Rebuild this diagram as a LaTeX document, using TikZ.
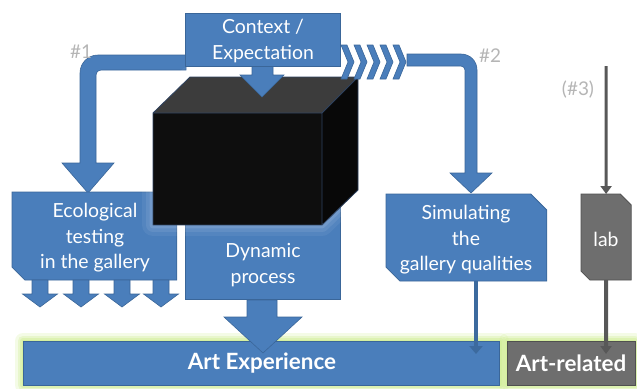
\documentclass[tikz,border=0pt]{standalone}
\usepackage{fontspec}
\setmainfont{Lato}
\usetikzlibrary{calc,arrows.meta}
\definecolor{boxblue}{HTML}{4A7EBB}
\definecolor{boxedge}{HTML}{3A6699}
\definecolor{boxgray}{HTML}{6E6E6E}
\definecolor{grayedge}{HTML}{505050}
\definecolor{tagcol}{HTML}{B5B5B5}
\definecolor{glowgreen}{HTML}{D3EE9C}
\definecolor{cubetop}{HTML}{3C3C3C}
\definecolor{cubefront}{HTML}{0E0E0E}
\definecolor{cubeside}{HTML}{080808}
\definecolor{cubeedge}{HTML}{2E4260}
\begin{document}
\begin{tikzpicture}[x=1bp,y=-1bp,
  bluebox/.style={fill=boxblue, draw=boxedge, line width=0.8bp, inner sep=0pt},
  graybox/.style={fill=boxgray, draw=grayedge, line width=0.8bp, inner sep=0pt},
  frame/.style={rectangle, inner sep=0pt},
  boxtext/.style={text=white, font=\fontsize{19.5}{25.5}\selectfont, align=center, inner sep=0pt},
  bartext/.style={text=white, font=\fontsize{22.5}{24}\selectfont\bfseries},
  tag/.style={text=tagcol, font=\fontsize{19}{20}\selectfont, inner sep=0pt},
  blockarrow/.style={fill=boxblue, draw=boxedge, line width=0.6bp},
  thinblue/.style={draw=boxedge!85!boxblue, line width=4bp, -{Triangle[width=13bp,length=8bp]}},
  thingray/.style={draw=boxgray!80!black, line width=#1, -{Triangle[width=11bp,length=8bp]}},
  glow/.style={draw=glowgreen, line join=round}
]
\useasboundingbox (0,0) rectangle (637,388);

% soft green halo round the two result bars
\foreach \w/\o in {16/0.25, 11/0.35, 6/0.55, 2/0.8} {
  \draw[glow, line width=\w, opacity=\o] (23,341) rectangle (501,385);
  \draw[glow, line width=\w, opacity=\o] (507,341) rectangle (635,385);
}
\node[bluebox, minimum width=478, minimum height=44, anchor=north west] (artexp) at (23,341) {};
\node[bartext] (artexptxt) at (262,363) {Art Experience};
\node[graybox, minimum width=128, minimum height=44, anchor=north west] (artrel) at (507,341) {};
\node[bartext] (artreltxt) at (571,363) {Art-related};

% path #1: bent arrow into the gallery box
\path[blockarrow] (186,55) -- (98,55) .. controls (88,55) and (80,63) .. (80,73)
  -- (80,163) -- (62,163) -- (88,193) -- (114,163) -- (96,163) -- (96,75)
  .. controls (96,72) and (98,70) .. (101,70) -- (186,70) -- cycle;

% ecological testing box (one snipped corner) and its outputs
\node[frame, minimum width=165, minimum height=88, anchor=north west] (eco) at (12,192) {};
\path[bluebox] (eco.north west) -- (eco.north east) -- (eco.south east)
  -- ($(eco.south west)+(13,0)$) -- ($(eco.south west)+(0,-13)$) -- cycle;
\node[boxtext] (ecotxt) at (95,238) {Ecological\\testing\\in the gallery};
\foreach \cx in {40,81,122,161} {
  \path[blockarrow] ({\cx-8},280) -- ({\cx+8},280) -- ({\cx+8},294) -- ({\cx+17.5},294)
    -- (\cx,307) -- ({\cx-17.5},294) -- ({\cx-8},294) -- cycle;
}

% dynamic process box, partly hidden by the black box
\node[bluebox, minimum width=156, minimum height=150, anchor=south west] (dyn) at (185,300) {};
\path[blockarrow] (247,300) -- (277,300) -- (277,317) -- (302,317) -- (263,353)
  -- (224,317) -- (247,317) -- cycle;
\node[boxtext] (dyntxt) at (263,265) {Dynamic\\process};

% the black box with a faint halo
\foreach \w/\o in {22/0.06, 14/0.08, 7/0.1} {
  \draw[white, opacity=\o, line width=\w, line join=round]
    (153,113) -- (190,77) -- (358,77) -- (358,190) -- (322,225) -- (153,225) -- cycle;
}
\fill[cubefront] (153,113) rectangle (322,225);
\fill[cubetop] (153,113) -- (190,77) -- (358,77) -- (322,113) -- cycle;
\fill[cubeside] (322,113) -- (358,77) -- (358,190) -- (322,225) -- cycle;
\draw[cubeedge, line width=0.8bp, line join=round]
  (153,113) -- (190,77) -- (358,77) -- (358,190) -- (322,225) -- (153,225) -- cycle
  (153,113) -- (322,113) -- (358,77) (322,113) -- (322,225);

% context box with its arrow into the black box
\path[blockarrow] (252,64) -- (273,64) -- (273,75) -- (284,75) -- (262,97)
  -- (240,75) -- (252,75) -- cycle;
\node[bluebox, minimum width=156, minimum height=53, anchor=north west] (ctx) at (185,13) {};
\node[boxtext] (ctxtxt) at (263,41) {Context /\\Expectation};

% path #2: chevrons, then a bent arrow to the simulation box
\foreach \i in {0,...,4} {
  \pgfmathsetmacro{\xa}{341+13*\i}
  \path[blockarrow] (\xa,45) -- ({\xa+6},45) -- ({\xa+13},62) -- ({\xa+6},79)
    -- (\xa,79) -- ({\xa+7},62) -- cycle;
}
\path[blockarrow] (407,54) -- (461,54) .. controls (470,54) and (477,61) .. (477,70)
  -- (477,173) -- (492,173) -- (471,193) -- (450,173) -- (465,173) -- (465,70)
  .. controls (465,68) and (463,66) .. (461,66) -- (407,66) -- cycle;

% simulation box (two snipped corners)
\node[frame, minimum width=161, minimum height=87, anchor=north west] (sim) at (386,194) {};
\path[bluebox] (sim.north west) -- ($(sim.north east)+(-16,0)$) -- ($(sim.north east)+(0,16)$)
  -- (sim.south east) -- ($(sim.south west)+(14,0)$) -- ($(sim.south west)+(0,-14)$) -- cycle;
\node[boxtext] (simtxt) at (466,240) {Simulating\\the\\gallery qualities};
\coordinate (simout) at (476,281);
\coordinate (simin) at (476,354);
\draw[thinblue] (simout) -- (simin);

% path (#3): the lab
\node[frame, minimum width=50, minimum height=86, anchor=north west] (lab) at (581,194) {};
\path[graybox] (lab.north west) -- ($(lab.north east)+(-11,0)$) -- ($(lab.north east)+(0,11)$)
  -- (lab.south east) -- ($(lab.south west)+(9,0)$) -- ($(lab.south west)+(0,-9)$) -- cycle;
\node[boxtext] (labtxt) at (606,239) {lab};
\coordinate (labtop) at (606,66);
\draw[thingray=3bp] (labtop) -- (lab.north);
\coordinate (labin) at (606,354);
\draw[thingray=4bp] (lab.south) -- (labin);

% path tags
\node[tag] (tag1) at (81,52) {\#1};
\node[tag] (tag2) at (490,56) {\#2};
\node[tag] (tag3) at (578,90) {(\#3)};
\end{tikzpicture}
\end{document}
